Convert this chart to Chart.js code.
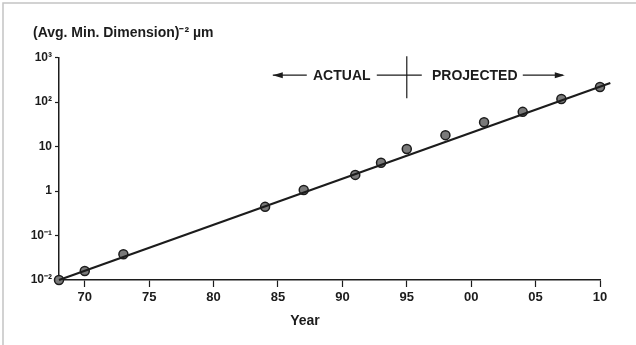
<!DOCTYPE html>
<html>
<head>
<meta charset="utf-8">
<script src="https://cdn.jsdelivr.net/npm/chart.js@4/dist/chart.umd.min.js"></script>
<style>
  html, body { margin: 0; padding: 0; background: #fff; }
  #wrap { width: 636px; height: 345px; }
</style>
</head>
<body>
<div id="wrap"><canvas id="chart" width="636" height="345"></canvas></div>
<script>
// data
const years = [1968, 1970, 1973, 1984, 1987, 1991, 1993, 1995, 1998, 2001, 2004, 2007, 2010];
const values = [0.01, 0.016, 0.038, 0.44, 1.05, 2.3, 4.3, 8.8, 18, 35, 60, 117, 218];
const trendYears = [1968, 2010.8];
const trendValues = [0.01, 268];
const xTicks = [1970, 1975, 1980, 1985, 1990, 1995, 2000, 2005, 2010];
const yTicks = [0.01, 0.1, 1, 10, 100, 1000];
const yTickLabels = ["10⁻²", "10⁻¹", "1", "10", "10²", "10³"];
const splitYear = 1995;

const ink = "#1c1c1c";
const font = "'Liberation Sans', Arial, sans-serif";

const annotations = {
  id: "annotations",
  afterDraw(chart) {
    const ctx = chart.ctx;
    const x = chart.scales.x;
    const y = chart.scales.y;
    ctx.save();

    // scan border
    ctx.strokeStyle = "#c4c4c4";
    ctx.lineWidth = 1.5;
    ctx.beginPath();
    ctx.moveTo(3, 345);
    ctx.lineTo(3, 3);
    ctx.lineTo(636, 3);
    ctx.stroke();

    ctx.fillStyle = ink;
    ctx.strokeStyle = ink;
    ctx.textBaseline = "middle";

    // axis title
    ctx.font = "bold 14px " + font;
    ctx.textAlign = "left";
    ctx.fillText("(Avg. Min. Dimension)⁻² µm", 33, 33);

    // x title
    ctx.textAlign = "center";
    ctx.fillText("Year", 305, 321);

    // actual / projected
    const xd = x.getPixelForValue(splitYear);
    const yd = y.getPixelForValue(400);
    ctx.lineWidth = 1.2;
    ctx.beginPath();
    ctx.moveTo(xd, yd - 19);
    ctx.lineTo(xd, yd + 23);
    ctx.moveTo(xd - 134, yd); ctx.lineTo(xd - 100, yd);
    ctx.moveTo(xd - 30, yd); ctx.lineTo(xd + 15, yd);
    ctx.moveTo(xd + 116, yd); ctx.lineTo(xd + 156, yd);
    ctx.stroke();
    ctx.beginPath();
    ctx.moveTo(xd - 134, yd); ctx.lineTo(xd - 124, yd - 3); ctx.lineTo(xd - 124, yd + 3); ctx.closePath();
    ctx.moveTo(xd + 158, yd); ctx.lineTo(xd + 148, yd - 3); ctx.lineTo(xd + 148, yd + 3); ctx.closePath();
    ctx.fill();

    ctx.font = "bold 14px " + font;
    ctx.fillText("ACTUAL", xd - 65, yd + 1);
    ctx.fillText("PROJECTED", xd + 68, yd + 1);
    ctx.restore();
  }
};

new Chart(document.getElementById("chart"), {
  type: "scatter",
  data: {
    datasets: [
      {
        label: "trend",
        data: trendYears.map((yr, i) => ({ x: yr, y: trendValues[i] })),
        showLine: true,
        borderColor: ink,
        borderWidth: 2.2,
        pointRadius: 0,
        clip: false,
      },
      {
        label: "points",
        data: years.map((yr, i) => ({ x: yr, y: values[i] })),
        backgroundColor: "#7a7a7a",
        borderColor: ink,
        borderWidth: 1.5,
        pointRadius: 4.5,
        clip: false,
      },
    ],
  },
  options: {
    responsive: false,
    animation: false,
    layout: { padding: { top: 57.5, right: 36, left: 0, bottom: 0 } },
    plugins: {
      legend: { display: false },
      tooltip: { enabled: false },
    },
    scales: {
      x: {
        type: "linear",
        min: 1968,
        max: 2010,
        afterBuildTicks: (s) => { s.ticks = xTicks.map((v) => ({ value: v })); },
        afterFit: (s) => { s.height = 65; },
        grid: { drawOnChartArea: false, tickLength: 7, color: ink, tickWidth: 1.2 },
        border: { color: ink, width: 1.5 },
        ticks: {
          color: ink,
          padding: 3,
          maxRotation: 0,
          font: { family: font, size: 13, weight: "bold" },
          callback: (v) => String(v % 100).padStart(2, "0"),
        },
      },
      y: {
        type: "logarithmic",
        min: 0.01,
        max: 1000,
        afterBuildTicks: (s) => { s.ticks = yTicks.map((v) => ({ value: v })); },
        afterFit: (s) => { s.width = 59; },
        grid: { drawOnChartArea: false, tickLength: 4, color: ink, tickWidth: 1.2 },
        border: { color: ink, width: 1.5 },
        ticks: {
          color: ink,
          padding: 3,
          font: { family: font, size: 12, weight: "bold" },
          callback: (v) => {
            const i = yTicks.findIndex((t) => Math.abs(Math.log10(t) - Math.log10(v)) < 1e-6);
            return i >= 0 ? yTickLabels[i] : "";
          },
        },
      },
    },
  },
  plugins: [annotations],
});
</script>
</body>
</html>
